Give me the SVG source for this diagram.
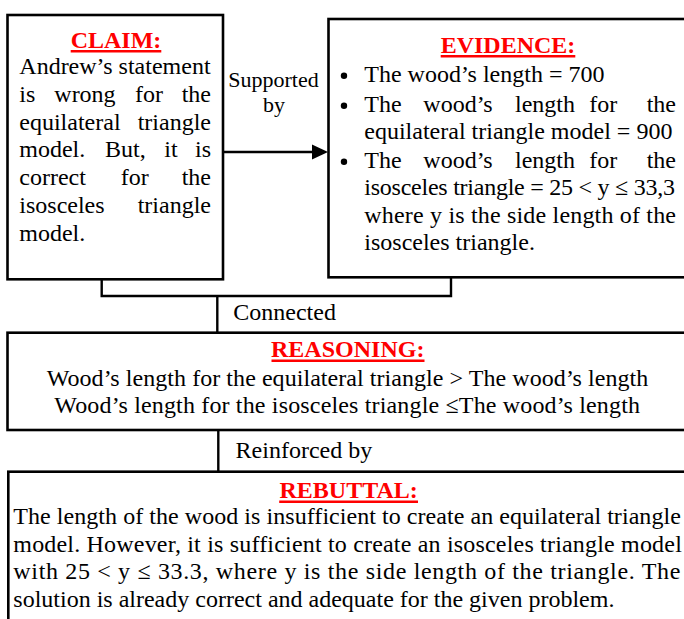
<svg xmlns="http://www.w3.org/2000/svg" width="684" height="619" viewBox="0 0 684 619">
<style>
  text { font-family: "Liberation Serif", "Times New Roman", serif; font-size: 24px; fill: #000; }
  .head { font-weight: bold; fill: #ff0000; text-anchor: middle; }
  .mid { text-anchor: middle; }
  .end { text-anchor: end; }
  .box { fill: #fff; stroke: #000; stroke-width: 2.6; }
  .ul { stroke: #ff0000; stroke-width: 2.5; }
  .conn { fill: none; stroke: #000; stroke-width: 2.4; }
</style>
<rect width="684" height="619" fill="#fff"/>

<g id="connectors">
  <line class="conn" x1="223" y1="152" x2="314" y2="152"/>
  <polygon points="328,152 312,144.5 312,159.5" fill="#000"/>
  <polyline class="conn" points="101.7,279 101.7,296 451,296 451,277"/>
  <line class="conn" x1="217.3" y1="296" x2="217.3" y2="332.7"/>
  <line class="conn" x1="218.3" y1="430" x2="218.3" y2="471.7"/>
  <text x="273.5" y="87.3" class="mid" style="font-size:22px">Supported</text>
  <text x="274" y="111.5" class="mid" style="font-size:22px">by</text>
  <text x="233.3" y="320">Connected</text>
  <text x="235.6" y="457.5">Reinforced by</text>
</g>

<g id="claim">
  <rect class="box" x="7.5" y="15" width="215.5" height="264.3"/>
  <text x="116" y="47.7" class="head">CLAIM:</text>
  <line class="ul" x1="70.7" y1="51.2" x2="161.3" y2="51.2"/>
  <text x="19.3" y="74">Andrew’s statement</text>
  <text x="19.3" y="101.8">is</text><text x="54.3" y="101.8">wrong</text><text x="135" y="101.8">for</text><text x="211" y="101.8" class="end">the</text>
  <text x="19.3" y="129.6">equilateral</text><text x="211" y="129.6" class="end">triangle</text>
  <text x="19.3" y="157.4">model.</text><text x="105" y="157.4">But,</text><text x="164.3" y="157.4">it</text><text x="211" y="157.4" class="end">is</text>
  <text x="19.3" y="185.2">correct</text><text x="120.7" y="185.2">for</text><text x="211" y="185.2" class="end">the</text>
  <text x="19.3" y="213">isosceles</text><text x="211" y="213" class="end">triangle</text>
  <text x="19.3" y="240.8">model.</text>
</g>

<g id="evidence">
  <rect class="box" x="328.5" y="19" width="370" height="258.3"/>
  <text x="508" y="52.7" class="head">EVIDENCE:</text>
  <line class="ul" x1="440.7" y1="56.2" x2="575.3" y2="56.2"/>
  <circle cx="344" cy="75.7" r="3.2"/>
  <circle cx="344" cy="105.7" r="3.2"/>
  <circle cx="344" cy="161.7" r="3.2"/>
  <text x="364.3" y="81.7">The wood’s length = 700</text>
  <text x="364.3" y="111.7">The</text><text x="423.3" y="111.7">wood’s</text><text x="515" y="111.7">length</text><text x="589.3" y="111.7">for</text><text x="676" y="111.7" class="end">the</text>
  <text x="364.3" y="138.5">equilateral triangle model = 900</text>
  <text x="364.3" y="167.7">The</text><text x="423.3" y="167.7">wood’s</text><text x="515" y="167.7">length</text><text x="589.3" y="167.7">for</text><text x="676" y="167.7" class="end">the</text>
  <text x="364.3" y="195" textLength="310.7" lengthAdjust="spacing">isosceles triangle = 25 &lt; y ≤ 33,3</text>
  <text x="364.3" y="222.7" textLength="311.7" lengthAdjust="spacing">where y is the side length of the</text>
  <text x="364.3" y="250">isosceles triangle.</text>
</g>

<g id="reasoning">
  <rect class="box" x="7.5" y="332.7" width="691" height="97.3"/>
  <text x="347.7" y="357.3" class="head">REASONING:</text>
  <line class="ul" x1="271.5" y1="360.8" x2="424.5" y2="360.8"/>
  <text x="46.7" y="385.5" textLength="601.6" lengthAdjust="spacing">Wood’s length for the equilateral triangle &gt; The wood’s length</text>
  <text x="54.3" y="413" textLength="585.7" lengthAdjust="spacing">Wood’s length for the isosceles triangle ≤The wood’s length</text>
</g>

<g id="rebuttal">
  <rect class="box" x="8.3" y="471.7" width="690" height="160"/>
  <text x="348.6" y="498.3" class="head">REBUTTAL:</text>
  <line class="ul" x1="279.2" y1="501.8" x2="418" y2="501.8"/>
  <text x="13.3" y="524" textLength="667.5" lengthAdjust="spacing">The length of the wood is insufficient to create an equilateral triangle</text>
  <text x="13.3" y="551.7" textLength="668.5" lengthAdjust="spacing">model. However, it is sufficient to create an isosceles triangle model</text>
  <text x="13.3" y="579.3" textLength="667" lengthAdjust="spacing">with 25 &lt; y ≤ 33.3, where y is the side length of the triangle. The</text>
  <text x="13.3" y="606.7">solution is already correct and adequate for the given problem.</text>
</g>
</svg>
